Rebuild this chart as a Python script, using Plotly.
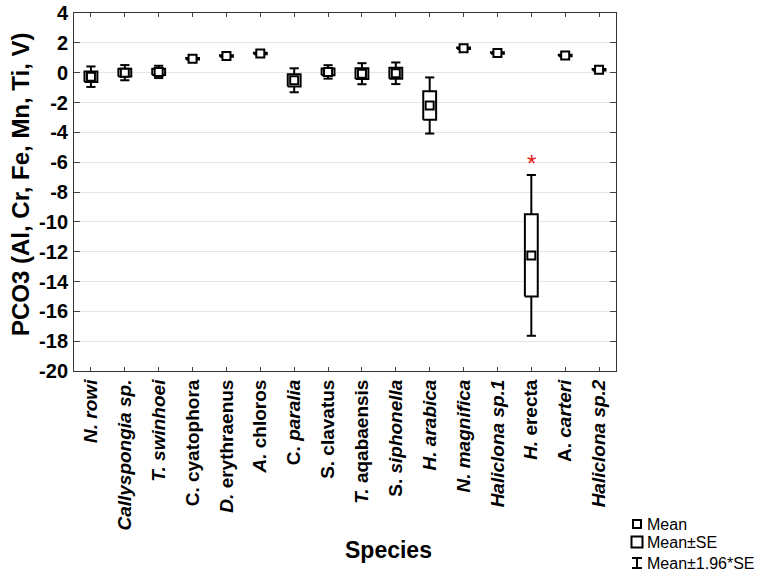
import plotly.graph_objects as go

# ---------------- data ----------------
species = ["N. rowi", "Callyspongia sp.", "T. swinhoei", "C. cyatophora",
           "D. erythraenus", "A. chloros", "C. paralia", "S. clavatus",
           "T. aqabaensis", "S. siphonella", "H. arabica", "N. magnifica",
           "Haliclona sp.1", "H. erecta", "A. carteri", "Haliclona sp.2"]
tick_labels = ["<i>N. rowi</i>", "<i>Callyspongia sp.</i>", "<i>T. swinhoei</i>",
               "C. cyatophora", "<i>D.</i> erythraenus", "<i>A.</i> chloros",
               "C. <i>paralia</i>", "S. clavatus", "<i>T.</i> aqabaensis",
               "S. <i>siphonella</i>", "<i>H. arabica</i>", "<i>N. magnifica</i>",
               "<i>Haliclona sp.1</i>", "<i>H.</i> erecta", "A. <i>carteri</i>",
               "<i>Haliclona sp.2</i>"]
means = [-0.27, 0.0, 0.05, 0.93, 1.12, 1.29, -0.51, 0.05, -0.07, -0.04,
         -2.2, 1.63, 1.32, -12.25, 1.15, 0.2]
se = [0.35, 0.26, 0.21, 0.05, 0.05, 0.05, 0.41, 0.23, 0.36, 0.37,
      0.96, 0.05, 0.05, 2.75, 0.05, 0.05]
y_ticks = list(range(-20, 5, 2))
flagged = ["H. erecta"]

# ---------------- geometry helpers (style only) ----------------
BOX_HW = 0.19
CAP_HW = 0.135
FONT = "Liberation Sans, Arial, sans-serif"

xs = list(range(len(species)))

wx, wy = [], []
for i, m, s in zip(xs, means, se):
    for sign in (1, -1):
        wx += [i, i, None, i - CAP_HW, i + CAP_HW, None]
        wy += [m + sign * s, m + sign * 1.96 * s, None,
               m + sign * 1.96 * s, m + sign * 1.96 * s, None]

bx, by = [], []
for i, m, s in zip(xs, means, se):
    bx += [i - BOX_HW, i + BOX_HW, i + BOX_HW, i - BOX_HW, i - BOX_HW, None]
    by += [m - s, m - s, m + s, m + s, m - s, None]

fig = go.Figure()
fig.add_trace(go.Scatter(x=wx, y=wy, mode="lines",
                         line=dict(color="black", width=2),
                         hoverinfo="skip", showlegend=False))
fig.add_trace(go.Scatter(x=bx, y=by, mode="lines", fill="toself",
                         fillcolor="white", line=dict(color="black", width=2),
                         hoverinfo="skip", showlegend=False))
fig.add_trace(go.Scatter(x=xs, y=means, mode="markers",
                         marker=dict(symbol="square", size=8, color="white",
                                     line=dict(color="black", width=2)),
                         showlegend=False))

# red asterisk above flagged species
for name in flagged:
    k = species.index(name)
    top = means[k] + 1.96 * se[k]
    fig.add_annotation(x=k, y=top, xref="x", yref="y", text="*",
                       showarrow=False, yanchor="bottom", yshift=-4,
                       font=dict(family=FONT, size=24, color="#e8161b"))

# ---------------- layout ----------------
L, R, T, B = 74, 616, 13, 371
W, H = 764, 579

def px(xp):
    return (xp - L) / (R - L)

def py(yp):
    return (B - yp) / (B - T)

fig.update_layout(
    width=W, height=H,
    margin=dict(l=L, r=W - R, t=T, b=H - B, autoexpand=False),
    plot_bgcolor="white", paper_bgcolor="white",
    font=dict(family=FONT, color="black"),
    xaxis=dict(range=[-0.5, len(species) - 0.5], tickmode="array",
               tickvals=xs, ticktext=tick_labels, tickangle=-90,
               tickfont=dict(family=FONT, size=19, color="black", weight="bold"),
               ticks="inside", ticklen=4, tickcolor="#444",
               showline=True, linecolor="#333", linewidth=1, mirror="ticks",
               showgrid=False, zeroline=False, automargin=False),
    yaxis=dict(range=[-20, 4], tickmode="array", tickvals=y_ticks,
               ticktext=[str(v) for v in y_ticks],
               tickfont=dict(family=FONT, size=20, color="black", weight="bold"),
               ticks="inside", ticklen=6, tickcolor="#444",
               ticklabelstandoff=1,
               showline=True, linecolor="#333", linewidth=1, mirror="ticks",
               showgrid=True, gridcolor="#e6e6e6", gridwidth=1, zeroline=False,
               automargin=False),
    showlegend=False,
)

# axis titles
fig.add_annotation(x=px(20), y=py(184), xref="paper", yref="paper",
                   text="<b>PCO3 (Al, Cr, Fe, Mn, Ti, V)</b>", textangle=-90,
                   showarrow=False, xanchor="center", yanchor="middle",
                   font=dict(family=FONT, size=24, color="black"))
fig.add_annotation(x=px(388), y=py(550), xref="paper", yref="paper",
                   text="<b>Species</b>", showarrow=False,
                   xanchor="center", yanchor="middle",
                   font=dict(family=FONT, size=23, color="black"))

# legend (drawn manually)
leg_font = dict(family=FONT, size=16, color="black")
fig.add_shape(type="rect", xref="paper", yref="paper",
              x0=px(633), x1=px(641), y0=py(528), y1=py(520),
              line=dict(color="black", width=2), fillcolor="white")
fig.add_annotation(x=px(645), y=py(524), xref="paper", yref="paper", text="Mean",
                   showarrow=False, xanchor="left", yanchor="middle", font=leg_font)
fig.add_shape(type="rect", xref="paper", yref="paper",
              x0=px(631.5), x1=px(642.5), y0=py(547.5), y1=py(536.5),
              line=dict(color="black", width=2), fillcolor="white")
fig.add_annotation(x=px(645), y=py(542), xref="paper", yref="paper", text="Mean±SE",
                   showarrow=False, xanchor="left", yanchor="middle", font=leg_font)
for (x0, y0, x1, y1) in [(637, 558, 637, 568), (632, 558, 642, 558), (632, 568, 642, 568)]:
    fig.add_shape(type="line", xref="paper", yref="paper",
                  x0=px(x0), x1=px(x1), y0=py(y0), y1=py(y1),
                  line=dict(color="black", width=2))
fig.add_annotation(x=px(645), y=py(563), xref="paper", yref="paper", text="Mean±1.96*SE",
                   showarrow=False, xanchor="left", yanchor="middle", font=leg_font)

fig.write_html("out.html", config={"displayModeBar": False},
               post_script="document.body.style.margin='0';document.body.style.overflow='hidden';")
